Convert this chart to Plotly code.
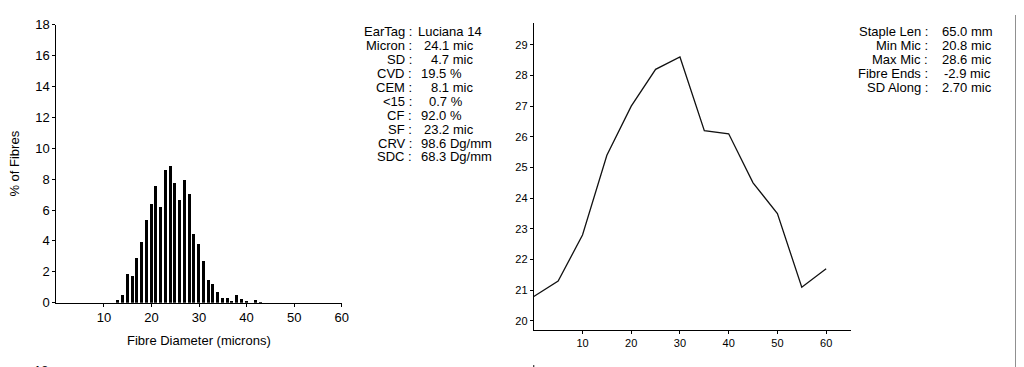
import plotly.graph_objects as go

# ---------------- data ----------------
diameter_microns = list(range(13, 44))
pct_fibres = [0.23, 0.52, 1.88, 1.76, 2.9, 3.93, 5.4, 6.42, 7.56, 6.23,
              8.59, 8.9, 7.78, 6.65, 7.99, 7.04, 4.45, 3.85, 2.71, 1.47,
              1.24, 0.72, 0.33, 0.33, 0.12, 0.54, 0.25, 0.12, 0.0, 0.23, 0.1]

staple_pos_mm = [0, 5, 10, 15, 20, 25, 30, 35, 40, 45, 50, 55, 60]
micron_along = [20.8, 21.3, 22.8, 25.4, 27.0, 28.2, 28.6, 26.2, 26.1, 24.5, 23.5, 21.1, 21.7]

left_tick_vals_x = [10, 20, 30, 40, 50, 60]
left_tick_vals_y = [0, 2, 4, 6, 8, 10, 12, 14, 16, 18]
right_tick_vals_x = [10, 20, 30, 40, 50, 60]
right_tick_vals_y = [20, 21, 22, 23, 24, 25, 26, 27, 28, 29]

stat_labels = ["EarTag :", "Micron :", "SD :", "CVD :", "CEM :", "<15 :",
               "CF :", "SF :", "CRV :", "SDC :"]
stat_values = ["Luciana 14", "24.1 mic", "4.7 mic", "19.5 %", "8.1 mic",
               "0.7 %", "92.0 %", "23.2 mic", "98.6 Dg/mm", "68.3 Dg/mm"]

prof_labels = ["Staple Len :", "Min Mic :", "Max Mic :", "Fibre Ends :", "SD Along :"]
prof_values = ["65.0 mm", "20.8 mic", "28.6 mic", "-2.9 mic", "2.70 mic"]

# ---------------- layout helpers ----------------
W, H = 1024, 367
FONT = "Arial, Liberation Sans, sans-serif"


def px(x):
    return x / W


def py(y):
    return 1 - y / H


stat_value_x = [411, 417, 424, 414, 424, 421.5, 414, 417, 414, 414]
stat_row_y = [17.3, 32, 46.7, 61.2, 75.8, 90.3, 104.6, 119, 133.5, 148]
prof_value_x = [938.7, 938.7, 938.7, 940.3, 938.7]
prof_row_y = [17.3, 32, 46.7, 61.2, 75.8]

fig = go.Figure()

fig.add_trace(go.Bar(
    x=diameter_microns, y=pct_fibres, width=0.62,
    marker=dict(color="black", line=dict(width=0)),
    xaxis="x", yaxis="y", showlegend=False, hoverinfo="skip"))

fig.add_trace(go.Scatter(
    x=staple_pos_mm, y=micron_along, mode="lines",
    line=dict(color="#111111", width=1.3),
    xaxis="x2", yaxis="y2", showlegend=False, hoverinfo="skip"))

axis_common = dict(showgrid=False, zeroline=False, showline=True,
                   linecolor="black", linewidth=1, ticks="outside",
                   tickcolor="black", ticklen=3, tickwidth=1, fixedrange=True)

fig.update_layout(
    width=W, height=H,
    margin=dict(l=0, r=0, t=0, b=0),
    paper_bgcolor="white", plot_bgcolor="white",
    font=dict(family=FONT, color="black"),
    bargap=0,
    xaxis=dict(domain=[px(48.7), px(336)], range=[0, 60],
               tickvals=left_tick_vals_x, tickfont=dict(size=13),
               anchor="y", **axis_common),
    yaxis=dict(domain=[py(300), py(10)], range=[0, 18],
               tickvals=left_tick_vals_y, tickfont=dict(size=13),
               anchor="x", **axis_common),
    xaxis2=dict(domain=[px(529.4), px(848.3)], range=[0, 65],
                tickvals=right_tick_vals_x, tickfont=dict(size=11),
                anchor="y2", **axis_common),
    yaxis2=dict(domain=[py(328.3), py(8.3)], range=[19.71, 29.71],
                tickvals=right_tick_vals_y, tickfont=dict(size=11),
                anchor="x2", **axis_common),
)

ann = []
ann.append(dict(text="% of Fibres", x=px(7), y=py(155), xref="paper", yref="paper",
                textangle=-90, showarrow=False, font=dict(size=13),
                xanchor="center", yanchor="middle"))
ann.append(dict(text="Fibre Diameter (microns)", x=px(192.3), y=py(339),
                xref="paper", yref="paper", showarrow=False, font=dict(size=13),
                xanchor="center", yanchor="middle"))

for lab, val, vx, ry in zip(stat_labels, stat_values, stat_value_x, stat_row_y):
    ann.append(dict(text=lab, x=px(409), y=py(ry), xref="paper", yref="paper",
                    showarrow=False, font=dict(size=13),
                    xanchor="right", yanchor="middle"))
    ann.append(dict(text=val, x=px(vx), y=py(ry), xref="paper", yref="paper",
                    showarrow=False, font=dict(size=13),
                    xanchor="left", yanchor="middle"))

for lab, val, vx, ry in zip(prof_labels, prof_values, prof_value_x, prof_row_y):
    ann.append(dict(text=lab, x=px(928), y=py(ry), xref="paper", yref="paper",
                    showarrow=False, font=dict(size=13),
                    xanchor="right", yanchor="middle"))
    ann.append(dict(text=val, x=px(vx), y=py(ry), xref="paper", yref="paper",
                    showarrow=False, font=dict(size=13),
                    xanchor="left", yanchor="middle"))

# partially visible top label of the next chart below
ann.append(dict(text="18", x=px(42.7), y=py(371), xref="paper", yref="paper",
                showarrow=False, font=dict(size=13),
                xanchor="right", yanchor="middle"))

fig.update_layout(annotations=ann)

fig.add_shape(type="line", xref="paper", yref="paper",
              x0=px(1015), x1=px(1015), y0=py(0), y1=py(367),
              line=dict(color="#8a8a8a", width=2))
fig.add_shape(type="line", xref="paper", yref="paper",
              x0=px(529.4), x1=px(529.4), y0=py(365), y1=py(368),
              line=dict(color="black", width=1))

fig.write_html("out.html", config={"displayModeBar": False})
